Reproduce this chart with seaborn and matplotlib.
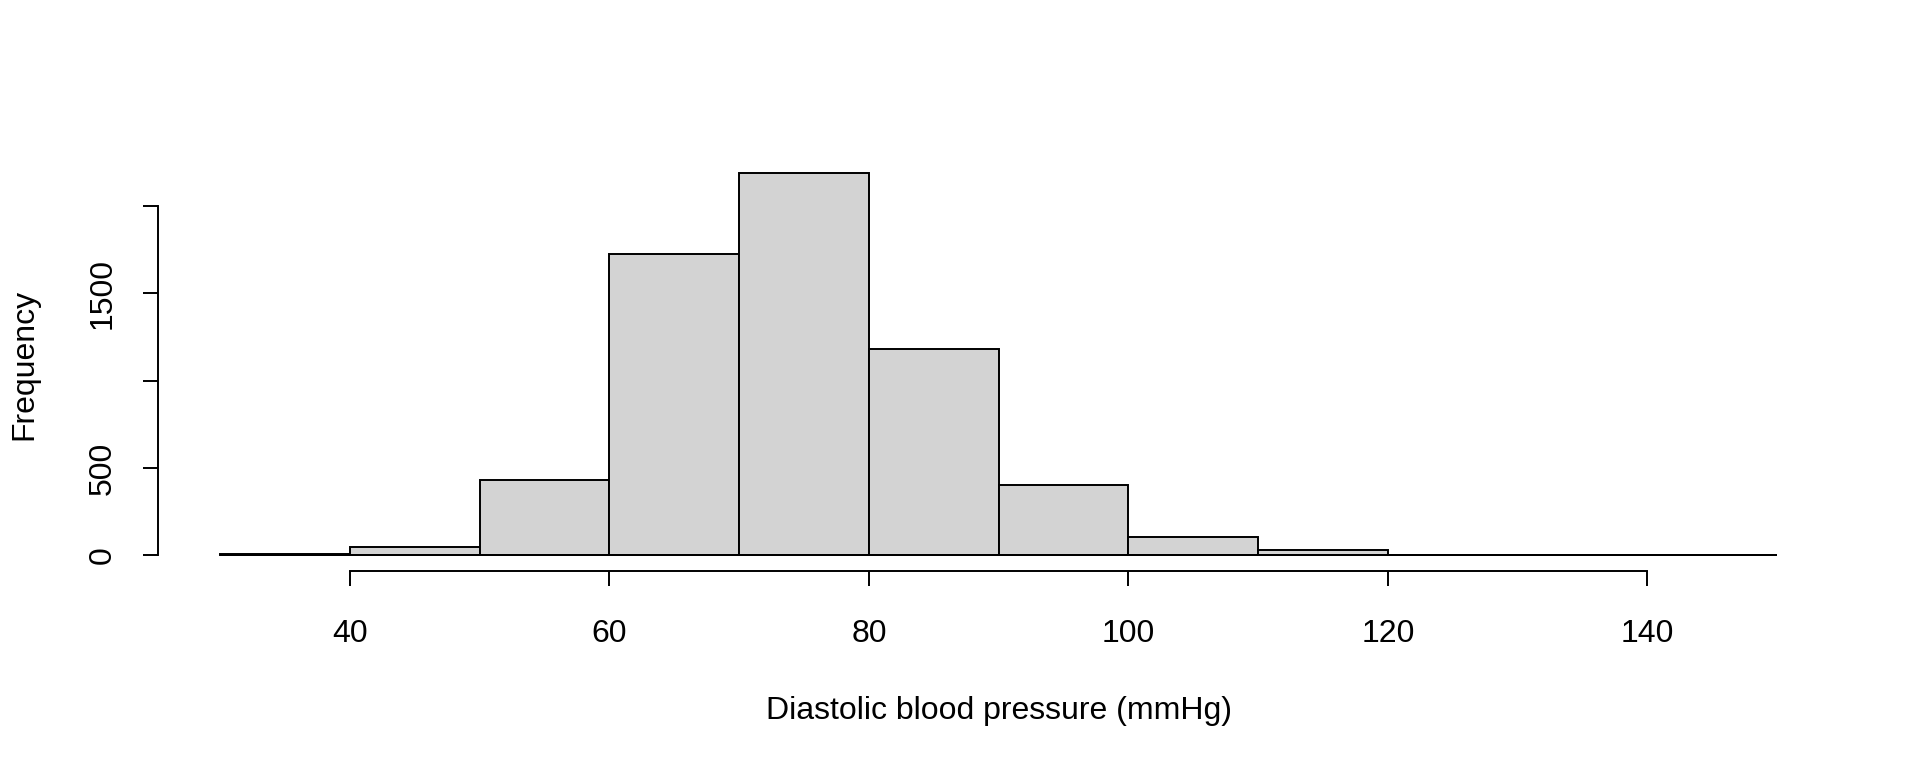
import matplotlib
matplotlib.use("Agg")
import matplotlib.pyplot as plt
import seaborn as sns
import numpy as np

# Data
bin_edges = [30, 40, 50, 60, 70, 80, 90, 100, 110, 120, 130, 140, 150]
bin_counts = [8, 51, 432, 1727, 2190, 1183, 402, 105, 34, 5, 2, 1]
x_ticks = [40, 60, 80, 100, 120, 140]
y_ticks = [0, 500, 1000, 1500, 2000]
y_tick_labels = ["0", "500", "", "1500", ""]

sns.set_theme(style="ticks")
plt.rcParams['font.family'] = ['Liberation Sans', 'DejaVu Sans']

mids = [(a + b) / 2 for a, b in zip(bin_edges[:-1], bin_edges[1:])]

fig = plt.figure(figsize=(19.2, 7.68), dpi=100)
ax = fig.add_axes([0.0823, 0.2568, 0.958 - 0.0823, 0.795 - 0.2568])

sns.histplot(x=mids, weights=bin_counts, bins=bin_edges, ax=ax,
             color="#D3D3D3", edgecolor="black", linewidth=1.4, alpha=1.0)
# baseline of the bars
ax.hlines(0, bin_edges[0], bin_edges[-1], color="black", linewidth=1.4)

xr = bin_edges[-1] - bin_edges[0]
ymax = max(bin_counts)
ax.set_xlim(bin_edges[0] - 0.04 * xr, bin_edges[-1] + 0.04 * xr)
ax.set_ylim(-0.04 * ymax, ymax * 1.04)

ax.spines['top'].set_visible(False)
ax.spines['right'].set_visible(False)
ax.spines['left'].set_bounds(0, 2000)
ax.spines['bottom'].set_bounds(40, 140)
for s in ['left', 'bottom']:
    ax.spines[s].set_linewidth(1.4)
    ax.spines[s].set_color("black")

ax.set_xticks(x_ticks)
ax.set_xticklabels([str(t) for t in x_ticks])
ax.set_yticks(y_ticks)
ax.set_yticklabels(y_tick_labels, rotation=90, va="center")
ax.tick_params(axis='both', length=11, width=1.4, color="black",
               labelsize=23, labelcolor="black")
ax.tick_params(axis='x', pad=23.5)
ax.tick_params(axis='y', pad=18)

ax.set_xlabel("Diastolic blood pressure (mmHg)", fontsize=23, labelpad=34, color="black")
ax.set_ylabel("Frequency", fontsize=23, labelpad=35, color="black")
ax.grid(False)

fig.savefig("out.png", dpi=100, facecolor="white")
